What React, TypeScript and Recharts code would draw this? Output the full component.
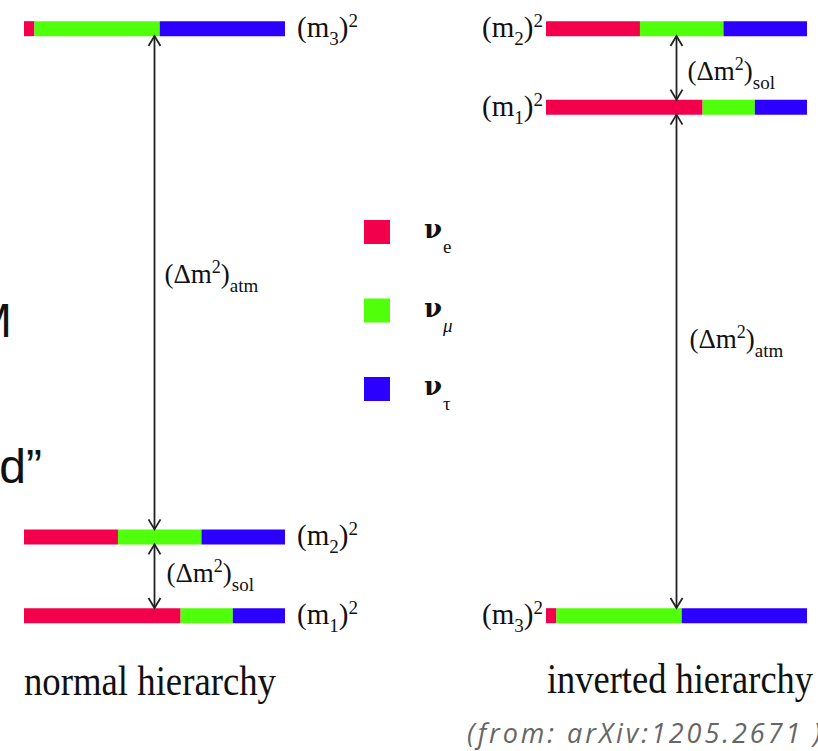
import React from "react";
import { BarChart, Bar, XAxis, YAxis, ReferenceLine, Legend } from "recharts";

const SERIF = '"Liberation Serif", "Times New Roman", serif';
const SANS = '"Liberation Sans", Arial, sans-serif';

// mass eigenstates and flavour content |U_ai|^2 of each one
const massStates = ["1", "2", "3"];
const flavourKeys = ["nuE", "nuMu", "nuTau"];
const flavourNames = ["e", "μ", "τ"];
const flavourColors = ["#f2004c", "#50ff0a", "#2b00ff"];
const nuEShare = [0.6, 0.36, 0.04];
const nuMuShare = [0.2, 0.32, 0.48];
const nuTauShare = [0.2, 0.32, 0.48];

// schematic m^2 levels (not to scale)
const normalMassSq = [0, 1.34, 10];
const invertedMassSq = [8.66, 10, 0];

const BAR = 15;
const CHART_H = 751;
const MARGIN_TOP = 28.5;
const MARGIN_BOTTOM = 135.5;

const buildRows = (levels: number[]) =>
  massStates.map((state, i) => ({
    state,
    massSq: levels[i],
    nuE: nuEShare[i],
    nuMu: nuMuShare[i],
    nuTau: nuTauShare[i],
  }));

const normalRows = buildRows(normalMassSq);
const invertedRows = buildRows(invertedMassSq);

function LevelTick(props: any) {
  const { x, y, textAnchor, state } = props;
  return (
    <text x={x} y={y + 8.5} textAnchor={textAnchor} fontFamily={SERIF} fontSize={29} fill="#111">
      (m
      <tspan dy={8} fontSize={19}>
        {state}
      </tspan>
      <tspan dy={-8}>)</tspan>
      <tspan dy={-10} fontSize={19}>
        2
      </tspan>
    </text>
  );
}

function GapArrow(props: any) {
  const { x1, y1, y2, kind, dx, dy } = props;
  const top = Math.min(y1, y2) + BAR / 2;
  const bottom = Math.max(y1, y2) - BAR / 2;
  const mid = (y1 + y2) / 2;
  const head = (tipY: number, dir: number) =>
    `${x1 - 6},${tipY + dir * 10} ${x1},${tipY} ${x1 + 6},${tipY + dir * 10}`;
  return (
    <g>
      <line x1={x1} y1={top} x2={x1} y2={bottom} stroke="#222" strokeWidth={1.8} />
      <polyline points={head(top, 1)} fill="none" stroke="#222" strokeWidth={1.8} />
      <polyline points={head(bottom, -1)} fill="none" stroke="#222" strokeWidth={1.8} />
      <text x={x1 + dx} y={mid + dy} fontFamily={SERIF} fontSize={27} fill="#111">
        (Δm
        <tspan dy={-10} fontSize={18}>
          2
        </tspan>
        <tspan dy={10}>)</tspan>
        <tspan dy={9} fontSize={19}>
          {kind}
        </tspan>
      </text>
    </g>
  );
}

function FlavourLegend(props: any) {
  const { payload = [] } = props;
  return (
    <svg width={120} height={200} style={{ overflow: "visible" }}>
      {payload.map((entry: any, i: number) => (
        <g key={entry.value} transform={`translate(0, ${i * 78.5})`}>
          <rect x={0} y={0} width={26} height={24} fill={entry.color} />
          <text x={60} y={18} fontFamily='"DejaVu Serif", serif' fontSize={26} fontWeight="bold" fill="#111">
            ν
          </text>
          <text
            x={79}
            y={33}
            fontFamily={SERIF}
            fontSize={19}
            fontStyle={entry.value === "μ" ? "italic" : "normal"}
            fill="#111"
          >
            {entry.value}
          </text>
        </g>
      ))}
    </svg>
  );
}

function FlavourBars() {
  return flavourKeys.map((key, i) => (
    <Bar
      key={key}
      dataKey={key}
      stackId="flavour"
      name={flavourNames[i]}
      fill={flavourColors[i]}
      isAnimationActive={false}
    />
  ));
}

export default function App() {
  const normalTicks = [...normalMassSq].sort((a, b) => a - b);
  const invertedTicks = [...invertedMassSq].sort((a, b) => a - b);

  return (
    <div
      style={{
        position: "absolute",
        left: 0,
        top: 0,
        width: 818,
        height: 751,
        background: "#fff",
        overflow: "hidden",
      }}
    >
      {/* normal hierarchy */}
      <div style={{ position: "absolute", left: 0, top: 0 }}>
        <BarChart
          width={410}
          height={CHART_H}
          data={normalRows}
          layout="vertical"
          barSize={BAR}
          margin={{ top: MARGIN_TOP, right: 0, left: 24, bottom: MARGIN_BOTTOM }}
        >
          <XAxis type="number" domain={[0, 1]} hide />
          <YAxis
            type="number"
            dataKey="massSq"
            domain={[0, 10]}
            reversed
            ticks={normalTicks}
            interval={0}
            orientation="right"
            width={125}
            axisLine={false}
            tickLine={false}
            tickSize={0}
            tickMargin={12}
            tick={(p: any) => (
              <LevelTick {...p} state={massStates[normalMassSq.indexOf(p.payload.value)]} />
            )}
          />
          {FlavourBars()}
          <ReferenceLine
            segment={[
              { x: 0.5, y: normalMassSq[1] },
              { x: 0.5, y: normalMassSq[2] },
            ]}
            shape={(p: any) => <GapArrow {...p} kind="atm" dx={10} dy={0} />}
          />
          <ReferenceLine
            segment={[
              { x: 0.5, y: normalMassSq[0] },
              { x: 0.5, y: normalMassSq[1] },
            ]}
            shape={(p: any) => <GapArrow {...p} kind="sol" dx={12} dy={5.5} />}
          />
          <Legend
            layout="horizontal"
            verticalAlign="middle"
            align="center"
            content={FlavourLegend}
            wrapperStyle={{ position: "absolute", left: 364, top: 220, width: 120, height: 200 }}
          />
        </BarChart>
      </div>

      {/* inverted hierarchy */}
      <div style={{ position: "absolute", left: 410, top: 0 }}>
        <BarChart
          width={408}
          height={CHART_H}
          data={invertedRows}
          layout="vertical"
          barSize={BAR}
          margin={{ top: MARGIN_TOP, right: 11, left: 0, bottom: MARGIN_BOTTOM }}
        >
          <XAxis type="number" domain={[0, 1]} hide />
          <YAxis
            type="number"
            dataKey="massSq"
            domain={[0, 10]}
            reversed
            ticks={invertedTicks}
            interval={0}
            orientation="left"
            width={136}
            axisLine={false}
            tickLine={false}
            tickSize={0}
            tickMargin={3}
            tick={(p: any) => (
              <LevelTick {...p} state={massStates[invertedMassSq.indexOf(p.payload.value)]} />
            )}
          />
          {FlavourBars()}
          <ReferenceLine
            segment={[
              { x: 0.5, y: invertedMassSq[0] },
              { x: 0.5, y: invertedMassSq[1] },
            ]}
            shape={(p: any) => <GapArrow {...p} kind="sol" dx={11} dy={12.5} />}
          />
          <ReferenceLine
            segment={[
              { x: 0.5, y: invertedMassSq[2] },
              { x: 0.5, y: invertedMassSq[0] },
            ]}
            shape={(p: any) => <GapArrow {...p} kind="atm" dx={13} dy={-13} />}
          />
        </BarChart>
      </div>

      {/* captions and slide text */}
      <svg
        width={818}
        height={751}
        style={{ position: "absolute", left: 0, top: 0, pointerEvents: "none" }}
      >
        <text x={12} y={337} textAnchor="end" fontFamily={SANS} fontSize={48} fill="#111">
          M
        </text>
        <text x={42} y={483} textAnchor="end" fontFamily={SANS} fontSize={48} fill="#111">
          d”
        </text>
        <text x={24} y={695} fontFamily={SERIF} fontSize={42} fill="#111" textLength={252} lengthAdjust="spacingAndGlyphs">
          normal hierarchy
        </text>
        <text x={547} y={693} fontFamily={SERIF} fontSize={42} fill="#111" textLength={266} lengthAdjust="spacingAndGlyphs">
          inverted hierarchy
        </text>
        <text
          x={467}
          y={743}
          fontFamily='"Open Sans", sans-serif'
          fontStyle="italic"
          fontSize={27}
          fill="#666"
          textLength={354}
          lengthAdjust="spacing"
        >
          (from: arXiv:1205.2671 )
        </text>
      </svg>
    </div>
  );
}
